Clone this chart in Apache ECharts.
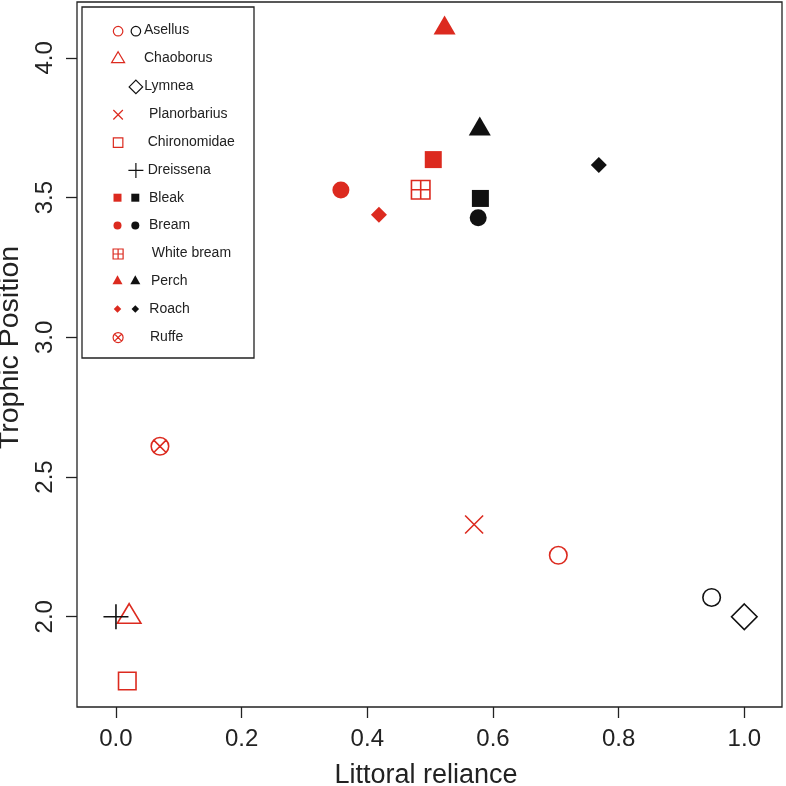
<!DOCTYPE html>
<html>
<head>
<meta charset="utf-8">
<script src="https://cdn.jsdelivr.net/npm/echarts@6/dist/echarts.min.js"></script>
<style>
html,body{margin:0;padding:0;background:#fff;}
#chart{width:786px;height:786px;}
</style>
</head>
<body>
<div id="chart"></div>
<script>
// ---------- data ----------
const categories = ['Asellus','Chaoborus','Lymnea','Planorbarius','Chironomidae','Dreissena','Bleak','Bream','White bream','Perch','Roach','Ruffe'];
const redLittoral   = [0.704, 0.021, null, 0.570, 0.018, null, 0.505, 0.358, 0.485, 0.523, 0.4185, 0.070];
const redTrophic    = [2.22,  2.00,  null, 2.33,  1.77,  null, 3.636, 3.527, 3.528, 4.106, 3.439, 2.61];
const blackLittoral = [0.948, null, 1.00, null, null, 0.00, 0.580, 0.5765, null, 0.579, 0.7685, null];
const blackTrophic  = [2.069, null, 2.00, null, null, 2.00, 3.497, 3.428, null, 3.745, 3.617, null];
const xTicks = [0.0, 0.2, 0.4, 0.6, 0.8, 1.0];
const yTicks = [2.0, 2.5, 3.0, 3.5, 4.0];

// ---------- styles ----------
const RED = '#dc2a1f', BLACK = '#111111', INK = '#222222';
const FONT = '"Liberation Sans", Arial, sans-serif';
const P_PLUS = 'path://M0,5L10,5M5,0L5,10';
const P_CROSS = 'path://M0,0L10,10M10,0L0,10';
const P_SQPLUS = 'path://M0,0L10,0L10,10L0,10ZM5,0L5,10M0,5L10,5';
const P_CIRCX = 'path://M0,5A5,5,0,1,1,10,5A5,5,0,1,1,0,5ZM1.464,1.464L8.536,8.536M8.536,1.464L1.464,8.536';
const symbolOf = ['circle','triangle','diamond',P_CROSS,'rect',P_PLUS,'rect','circle',P_SQPLUS,'triangle','diamond',P_CIRCX];
const filledOf = [false,false,false,false,false,false,true,true,false,true,true,false];
const plotSize = [[17.5,17.5],[23.5,19.5],[25.5,25.5],[18,18],[17.5,17.5],[25,25],[17,17],[17,17],[18.5,18.5],[22,19],[16,16],[17.5,17.5]];
const legendSize = [[9.5,9.5],[13,11],[13.5,13.5],[9.5,9.5],[9.5,9.5],[15,15],[8,8],[8,8],[10,10],[10,9],[7.5,7.5],[10,10]];
const legendRow0 = 30.6, legendStep = 27.85;
const legendRedX = 117.5, legendBlackX = 135.3;
const legendTextX = [144, 144, 144.3, 149, 147.7, 147.7, 149, 149, 151.7, 151, 149.3, 150];

function styleFor(i, color, lw) {
  return filledOf[i]
    ? { color: color, borderWidth: 0, opacity: 1 }
    : { color: 'transparent', borderColor: color, borderWidth: lw, opacity: 1 };
}
function offsetFor(i) {
  return symbolOf[i] === 'triangle' ? [0, '-16.67%'] : [0, 0];
}

const series = [];
const legends = [];
const graphics = [
  { type: 'rect', shape: { x: 82, y: 7, width: 172, height: 351 },
    style: { fill: 'transparent', stroke: INK, lineWidth: 1.3 }, z: 5 }
];

categories.forEach(function (cat, i) {
  const rowY = legendRow0 + legendStep * i;
  const groups = [];
  if (redLittoral[i] !== null) groups.push({ name: cat, color: RED, x: redLittoral[i], y: redTrophic[i], lx: legendRedX });
  if (blackLittoral[i] !== null) groups.push({ name: cat + ' (black)', color: BLACK, x: blackLittoral[i], y: blackTrophic[i], lx: legendBlackX });
  groups.forEach(function (g) {
    series.push({
      type: 'scatter',
      name: g.name,
      data: [[g.x, g.y]],
      symbol: symbolOf[i],
      symbolSize: plotSize[i],
      symbolOffset: offsetFor(i),
      symbolKeepAspect: false,
      itemStyle: styleFor(i, g.color, 1.6),
      emphasis: { disabled: true },
      silent: true,
      z: 3
    });
    const w = legendSize[i][0], h = legendSize[i][1];
    const dy = symbolOf[i] === 'triangle' ? h / 6 : 0;
    legends.push({
      show: true,
      orient: 'vertical',
      left: g.lx - w / 2,
      top: rowY - h / 2 - dy,
      padding: 0,
      itemWidth: w,
      itemHeight: h,
      itemGap: 0,
      selectedMode: false,
      symbolKeepAspect: false,
      formatter: function () { return ''; },
      textStyle: { fontSize: 1, lineHeight: 1 },
      data: [{ name: g.name, icon: symbolOf[i], itemStyle: styleFor(i, g.color, 1.2) }],
      z: 6
    });
  });
  graphics.push({
    type: 'text', x: legendTextX[i], y: rowY, z: 6,
    style: { text: cat, fill: INK, font: '14px ' + FONT, verticalAlign: 'middle', align: 'left' }
  });
});

const chart = echarts.init(document.getElementById('chart'), null, { renderer: 'canvas' });
chart.setOption({
  animation: false,
  backgroundColor: '#ffffff',
  textStyle: { fontFamily: FONT },
  grid: { left: 77, right: 4, top: 2, bottom: 79, show: true, borderColor: INK, borderWidth: 1.3,
          backgroundColor: 'transparent', containLabel: false, outerBoundsMode: 'none' },
  xAxis: {
    type: 'value', min: -0.062, max: 1.06,
    splitLine: { show: false },
    axisLine: { show: false, onZero: false },
    axisTick: { show: true, length: 11, customValues: xTicks, lineStyle: { color: INK, width: 1.3 } },
    axisLabel: { customValues: xTicks, formatter: function (v) { return v.toFixed(1); }, fontSize: 24, margin: 20, color: INK, fontFamily: FONT },
    name: 'Littoral reliance', nameLocation: 'middle', nameGap: 55,
    nameTextStyle: { fontSize: 27, color: INK, fontFamily: FONT, padding: [0, 7, 0, 0] }
  },
  yAxis: {
    type: 'value', min: 1.677, max: 4.2,
    splitLine: { show: false },
    axisLine: { show: false, onZero: false },
    axisTick: { show: true, length: 11, customValues: yTicks, lineStyle: { color: INK, width: 1.3 } },
    axisLabel: { customValues: yTicks, rotate: 90, formatter: function (v) { return v.toFixed(1); }, fontSize: 24, margin: 20, color: INK, fontFamily: FONT },
    name: 'Trophic Position', nameLocation: 'middle', nameGap: 50, nameRotate: 90,
    nameTextStyle: { fontSize: 28.5, color: INK, fontFamily: FONT, padding: [0, 0, 0, 14] }
  },
  legend: legends,
  graphic: graphics,
  series: series
});
</script>
</body>
</html>
